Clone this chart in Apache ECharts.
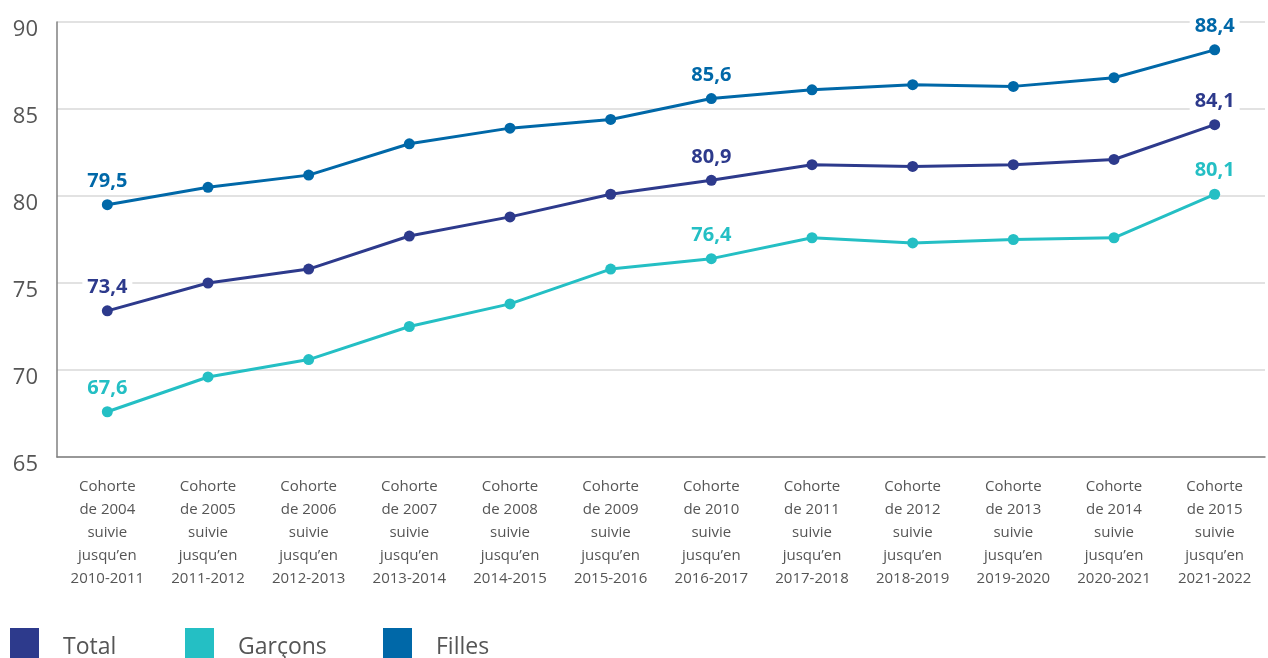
<!DOCTYPE html>
<html>
<head>
<meta charset="utf-8">
<script src="https://cdn.jsdelivr.net/npm/echarts@6/dist/echarts.min.js"></script>
<style>html,body{margin:0;padding:0;background:#fff}#c{width:1268px;height:658px}</style>
</head>
<body>
<div id="c"></div>
<script>
const categories = [
  "Cohorte\nde 2004\nsuivie\njusqu’en\n2010-2011",
  "Cohorte\nde 2005\nsuivie\njusqu’en\n2011-2012",
  "Cohorte\nde 2006\nsuivie\njusqu’en\n2012-2013",
  "Cohorte\nde 2007\nsuivie\njusqu’en\n2013-2014",
  "Cohorte\nde 2008\nsuivie\njusqu’en\n2014-2015",
  "Cohorte\nde 2009\nsuivie\njusqu’en\n2015-2016",
  "Cohorte\nde 2010\nsuivie\njusqu’en\n2016-2017",
  "Cohorte\nde 2011\nsuivie\njusqu’en\n2017-2018",
  "Cohorte\nde 2012\nsuivie\njusqu’en\n2018-2019",
  "Cohorte\nde 2013\nsuivie\njusqu’en\n2019-2020",
  "Cohorte\nde 2014\nsuivie\njusqu’en\n2020-2021",
  "Cohorte\nde 2015\nsuivie\njusqu’en\n2021-2022"
];
const total   = [73.4, 75.0, 75.8, 77.7, 78.8, 80.1, 80.9, 81.8, 81.7, 81.8, 82.1, 84.1];
const garcons = [67.6, 69.6, 70.6, 72.5, 73.8, 75.8, 76.4, 77.6, 77.3, 77.5, 77.6, 80.1];
const filles  = [79.5, 80.5, 81.2, 83.0, 83.9, 84.4, 85.6, 86.1, 86.4, 86.3, 86.8, 88.4];
const labelledIdx = [0, 6, 11];
const yTicks = { min: 65, max: 90, interval: 5 };

const FONT = '"Open Sans", "Noto Sans", sans-serif';
const colors = { total: '#2d3a8c', garcons: '#24bfc4', filles: '#0068a8' };

function buildData(arr) {
  return arr.map((v, i) => ({ value: v, label: { show: labelledIdx.indexOf(i) >= 0 } }));
}
function mkSeries(name, arr, color) {
  return {
    name: name, type: 'line', data: buildData(arr),
    symbol: 'circle', symbolSize: 11,
    lineStyle: { width: 3, color: color },
    itemStyle: { color: color },
    label: {
      position: 'top', distance: 8, color: color, fontFamily: FONT,
      fontWeight: 'bold', fontSize: 20, backgroundColor: '#fff', padding: [0, 5],
      formatter: p => String(p.value.toFixed(1)).replace('.', ',')
    },
    emphasis: { disabled: true }, animation: false
  };
}
function mkLegend(name, left) {
  return {
    data: [name], left: left, top: 623, icon: 'rect', itemWidth: 29, itemHeight: 31,
    formatter: '{a|{name}}',
    textStyle: {
      rich: { a: { fontFamily: FONT, fontSize: 23, color: '#555', padding: [8, 0, 0, 19] } }
    },
    selectedMode: false
  };
}
const chart = echarts.init(document.getElementById('c'));
chart.setOption({
  animation: false,
  grid: { left: 57, right: 3, top: 22, bottom: 201 },
  legend: [mkLegend('Total', 5), mkLegend('Garçons', 180), mkLegend('Filles', 378)],
  xAxis: {
    type: 'category', data: categories, boundaryGap: true,
    axisLine: { lineStyle: { color: '#808080', width: 1.5 } },
    axisTick: { inside: true, length: 10, alignWithLabel: true, lineStyle: { color: '#808080', width: 1.5 } },
    axisLabel: { interval: 0, margin: 18, fontFamily: FONT, fontSize: 15, lineHeight: 23, color: '#555' }
  },
  yAxis: {
    type: 'value', min: yTicks.min, max: yTicks.max, interval: yTicks.interval,
    axisLine: { show: true, lineStyle: { color: '#808080', width: 1.5 } },
    axisTick: { show: false },
    splitLine: { lineStyle: { color: '#d9d9d9', width: 1.5 } },
    axisLabel: {
      margin: 19, formatter: '{a|{value}}',
      rich: { a: { fontFamily: FONT, fontSize: 22, color: '#555', padding: [16, 0, 0, 0] } }
    }
  },
  series: [
    mkSeries('Total', total, colors.total),
    mkSeries('Garçons', garcons, colors.garcons),
    mkSeries('Filles', filles, colors.filles)
  ]
});
</script>
</body>
</html>
